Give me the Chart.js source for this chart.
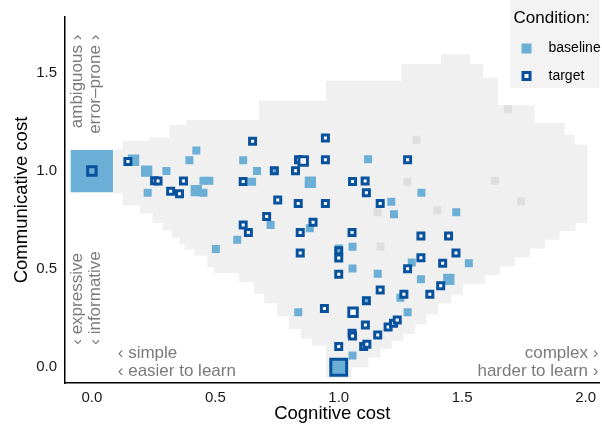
<!DOCTYPE html>
<html>
<head>
<meta charset="utf-8">
<script src="https://cdn.jsdelivr.net/npm/chart.js@4.4.1/dist/chart.umd.min.js"></script>
<style>
html,body{margin:0;padding:0;background:#ffffff;}
canvas{display:block;}
</style>
</head>
<body>
<canvas id="chart" width="602" height="427" style="width:602px;height:427px"></canvas>
<script>
// ---------------- data ----------------
const xTickValues = [0, 0.5, 1, 1.5, 2];
const xTickLabels = ['0.0', '0.5', '1.0', '1.5', '2.0'];
const yTickValues = [0, 0.5, 1, 1.5];
const yTickLabels = ['0.0', '0.5', '1.0', '1.5'];

const xTitle = 'Cognitive cost';
const yTitle = 'Communicative cost';
const legendTitle = 'Condition:';
const seriesNames = ['baseline', 'target'];

// baseline condition (x = cognitive cost, y = communicative cost, n = count)
const baselineX = [0.000,0.169,0.222,0.302,0.423,0.395,0.226,0.452,0.476,0.423,0.452,0.613,0.669,0.649,0.724,0.589,0.502,0.885,1.119,1.335,1.213,1.224,1.476,0.883,1.056,1.056,1.158,1.000,1.296,1.333,1.446,1.527,1.250,1.279,0.836,1.056,1.000,0.739,1.112];
const baselineY = [1.000,1.055,1.000,1.000,1.105,1.055,0.890,0.950,0.950,0.900,0.890,1.055,1.000,0.945,0.725,0.650,0.603,0.943,1.060,0.890,0.844,0.780,0.790,0.708,0.614,0.503,0.477,0.605,0.534,0.449,0.448,0.530,0.355,0.281,0.281,0.060,0.000,1.001,0.339];
const baselineN = [28,2,2,1,1,1,1,1,1,2,1,1,1,1,1,1,1,2,1,1,1,1,1,1,1,1,1,1,1,1,2,1,1,1,1,1,4,1,1];

// target condition
const targetX = [0.000,0.146,0.254,0.268,0.371,0.319,0.355,0.651,0.613,0.739,0.753,0.708,0.613,0.634,0.946,0.837,0.856,0.825,0.946,1.279,1.056,1.107,1.112,1.168,0.836,0.946,0.896,0.844,1.054,1.333,1.445,0.844,1.000,1.000,1.000,1.333,1.475,1.421,1.279,1.168,1.264,1.369,1.413,1.112,0.942,1.058,1.108,1.054,1.056,1.158,1.200,1.222,1.237,1.000,1.101,1.114,1.000];
const targetY = [1.000,1.049,0.951,0.949,0.949,0.897,0.884,1.152,0.947,1.001,0.852,0.768,0.725,0.687,1.168,1.057,1.051,1.002,1.057,1.057,0.947,0.949,0.890,0.835,0.835,0.835,0.739,0.687,0.687,0.669,0.669,0.582,0.594,0.557,0.474,0.558,0.582,0.530,0.502,0.394,0.372,0.372,0.415,0.339,0.299,0.281,0.215,0.173,0.160,0.164,0.205,0.225,0.241,0.106,0.106,0.118,0.000];
const targetN = [2,1,1,1,1,1,1,1,1,1,1,1,1,1,1,1,2,1,1,1,1,1,1,1,1,1,1,1,1,1,1,1,1,1,1,1,1,1,1,1,1,1,1,1,1,2,1,1,1,1,1,1,1,1,1,1,7];

// other (unobserved) languages
const otherX = [1.685,1.315,1.278,1.633,1.738,1.399,1.157,1.169];
const otherY = [1.315,1.160,0.945,0.950,0.845,0.800,0.790,0.615];

// outline of the space of possible languages
const regionX = [0.089,0.125,0.125,0.234,0.234,0.3145,0.3145,0.383,0.383,0.677,0.677,0.948,0.948,1.254,1.254,1.415,1.415,1.532,1.532,1.585,1.585,1.645,1.645,1.794,1.794,1.915,1.915,1.956,1.956,2.008,
  2.008,1.960,1.960,1.895,1.895,1.835,1.835,1.774,1.774,1.714,1.714,1.653,1.653,1.593,1.593,1.504,1.504,1.456,1.456,1.403,1.403,1.355,1.355,1.310,1.310,1.262,1.262,1.214,1.214,1.169,1.169,1.121,1.121,1.052,1.052,0.948,
  0.948,0.891,0.891,0.847,0.847,0.798,0.798,0.750,0.750,0.698,0.698,0.657,0.657,0.597,0.597,0.496,0.496,0.468,0.468,0.415,0.415,0.375,0.375,0.355,0.355,0.323,0.323,0.286,0.286,0.246,0.246,0.194,0.194,0.125,0.125,0.089];
const regionY = [1.110,1.110,1.155,1.155,1.170,1.170,1.235,1.235,1.260,1.260,1.360,1.360,1.460,1.460,1.545,1.545,1.595,1.595,1.545,1.545,1.475,1.475,1.335,1.335,1.245,1.245,1.185,1.185,1.135,1.135,
  0.735,0.735,0.695,0.695,0.650,0.650,0.605,0.605,0.560,0.560,0.515,0.515,0.470,0.470,0.425,0.425,0.370,0.370,0.325,0.325,0.270,0.270,0.220,0.220,0.170,0.170,0.135,0.135,0.095,0.095,0.050,0.050,0.000,0.000,-0.055,-0.055,
  0.110,0.110,0.145,0.145,0.195,0.195,0.260,0.260,0.325,0.325,0.375,0.375,0.435,0.435,0.480,0.480,0.510,0.510,0.570,0.570,0.600,0.600,0.630,0.630,0.660,0.660,0.700,0.700,0.735,0.735,0.785,0.785,0.825,0.825,0.885,0.885];

// corner annotations
const annotationTexts = ['\u2039 simple', '\u2039 easier to learn', 'complex \u203A', 'harder to learn \u203A', 'ambiguous \u203A', 'error\u2013prone \u203A', '\u2039 expressive', '\u2039 informative'];
const annotationX = [0.105, 0.105, 2.052, 2.052, -0.060, 0.012, -0.060, 0.012];
const annotationY = [0.070, -0.020, 0.070, -0.020, 1.695, 1.695, 0.115, 0.115];

// ---------------- styling ----------------
const FONT = "'Liberation Sans', Arial, Helvetica, sans-serif";
Chart.defaults.font.family = FONT;
const COL_BASE = '#6baed6';
const COL_TARGET = '#08519c';
const COL_OTHER = '#dedede';
const COL_REGION = '#f0f0f0';
const annotationAlign = ['left','left','right','right','right','right','left','left'];
const annotationVertical = [false,false,false,false,true,true,true,true];

const toPts = (xs, ys) => xs.map((x, i) => ({x: x, y: ys[i]}));
const baseRadius = baselineN.map(n => 8 * Math.sqrt(n) / Math.SQRT2);
const targetRadius = targetN.map(n => 6 * Math.sqrt(n) / Math.SQRT2);
const targetFill = targetX.map((x, i) => baselineX.some((bx, j) =>
  Math.abs(bx - x) < 0.016 && Math.abs(baselineY[j] - targetY[i]) < 0.016) ? 'rgba(0,0,0,0)' : '#ffffff');

const overlay = {
  id: 'overlay',
  afterDatasetsDraw(chart) {
    const ctx = chart.ctx, xs = chart.scales.x, ys = chart.scales.y;
    ctx.save();
    ctx.fillStyle = '#7a7a7a';
    ctx.font = '17px ' + FONT;
    ctx.textBaseline = 'middle';
    annotationTexts.forEach((t, i) => {
      const px = xs.getPixelForValue(annotationX[i]);
      const py = ys.getPixelForValue(annotationY[i]);
      ctx.save();
      ctx.translate(px, py);
      if (annotationVertical[i]) ctx.rotate(-Math.PI / 2);
      ctx.textAlign = annotationAlign[i];
      ctx.fillText(t, 0, 0);
      ctx.restore();
    });
    ctx.restore();
  },
  afterDraw(chart) {
    const ctx = chart.ctx, ca = chart.chartArea;
    const lx = ca.right - 89;
    ctx.save();
    ctx.fillStyle = '#f3f3f3';
    ctx.fillRect(lx, 0, 89, 88);
    ctx.fillStyle = '#000';
    ctx.textBaseline = 'middle';
    ctx.textAlign = 'left';
    ctx.font = '17px ' + FONT;
    ctx.fillText(legendTitle, lx + 3, 18.5);
    const draw = Chart.helpers && Chart.helpers.drawPoint;
    // baseline key
    ctx.fillStyle = COL_BASE;
    ctx.lineWidth = 0;
    if (draw) draw(ctx, {pointStyle: 'rect', radius: 10 / Math.SQRT2, borderWidth: 0}, lx + 16, 48.5);
    else ctx.fillRect(lx + 11, 43.5, 10, 10);
    // target key
    ctx.fillStyle = '#ffffff';
    ctx.strokeStyle = COL_TARGET;
    ctx.lineWidth = 3;
    if (draw) draw(ctx, {pointStyle: 'rect', radius: 7 / Math.SQRT2, borderWidth: 3}, lx + 16, 76);
    else { ctx.fillRect(lx + 12.5, 72.5, 7, 7); ctx.strokeRect(lx + 12.5, 72.5, 7, 7); }
    ctx.fillStyle = '#000';
    ctx.font = '14px ' + FONT;
    ctx.fillText(seriesNames[0], lx + 38, 48.5);
    ctx.fillText(seriesNames[1], lx + 38, 76);
    ctx.restore();
  }
};

new Chart(document.getElementById('chart'), {
  type: 'scatter',
  data: {
    datasets: [
      {
        label: seriesNames[1],
        data: toPts(targetX, targetY),
        pointStyle: 'rect',
        pointRadius: targetRadius,
        pointBorderWidth: 3,
        borderColor: COL_TARGET,
        pointBorderColor: COL_TARGET,
        pointBackgroundColor: targetFill,
        backgroundColor: targetFill,
        order: 1
      },
      {
        label: seriesNames[0],
        data: toPts(baselineX, baselineY),
        pointStyle: 'rect',
        pointRadius: baseRadius,
        pointBorderWidth: 0,
        backgroundColor: COL_BASE,
        pointBackgroundColor: COL_BASE,
        borderColor: COL_BASE,
        order: 2
      },
      {
        label: 'other',
        data: toPts(otherX, otherY),
        pointStyle: 'rect',
        pointRadius: 8 / Math.SQRT2,
        pointBorderWidth: 0,
        backgroundColor: COL_OTHER,
        pointBackgroundColor: COL_OTHER,
        order: 3
      },
      {
        label: 'space',
        type: 'line',
        data: toPts(regionX, regionY),
        showLine: true,
        fill: 'shape',
        tension: 0,
        pointRadius: 0,
        borderWidth: 0,
        borderColor: 'rgba(0,0,0,0)',
        backgroundColor: COL_REGION,
        order: 4
      }
    ]
  },
  options: {
    responsive: false,
    animation: false,
    events: [],
    layout: {autoPadding: false, padding: {top: 10, right: 0, bottom: 0, left: 0}},
    plugins: {legend: {display: false}, tooltip: {enabled: false}},
    scales: {
      x: {
        type: 'linear',
        min: -0.1089,
        max: 2.0565,
        grid: {display: false, drawTicks: false},
        border: {display: true, color: '#000', width: 1.5},
        afterBuildTicks: s => { s.ticks = xTickValues.map(v => ({value: v})); },
        ticks: {padding: 6, color: '#1a1a1a', font: {size: 15}, maxRotation: 0,
          callback: (v, i) => xTickLabels[i]},
        title: {display: true, text: xTitle, color: '#000', font: {size: 18.5}, padding: {top: 0, bottom: 2}},
        afterFit: s => { s.height = 44; }
      },
      y: {
        type: 'linear',
        min: -0.08,
        max: 1.785,
        grid: {display: false, drawTicks: false},
        border: {display: true, color: '#000', width: 1.5},
        afterBuildTicks: s => { s.ticks = yTickValues.map(v => ({value: v})); },
        ticks: {padding: 8, color: '#1a1a1a', font: {size: 15},
          callback: (v, i) => yTickLabels[i]},
        title: {display: true, text: yTitle, color: '#000', font: {size: 18.5}, padding: {top: 10.5, bottom: 0}},
        afterFit: s => { s.width = 65; }
      }
    }
  },
  plugins: [overlay]
});
</script>
</body>
</html>
